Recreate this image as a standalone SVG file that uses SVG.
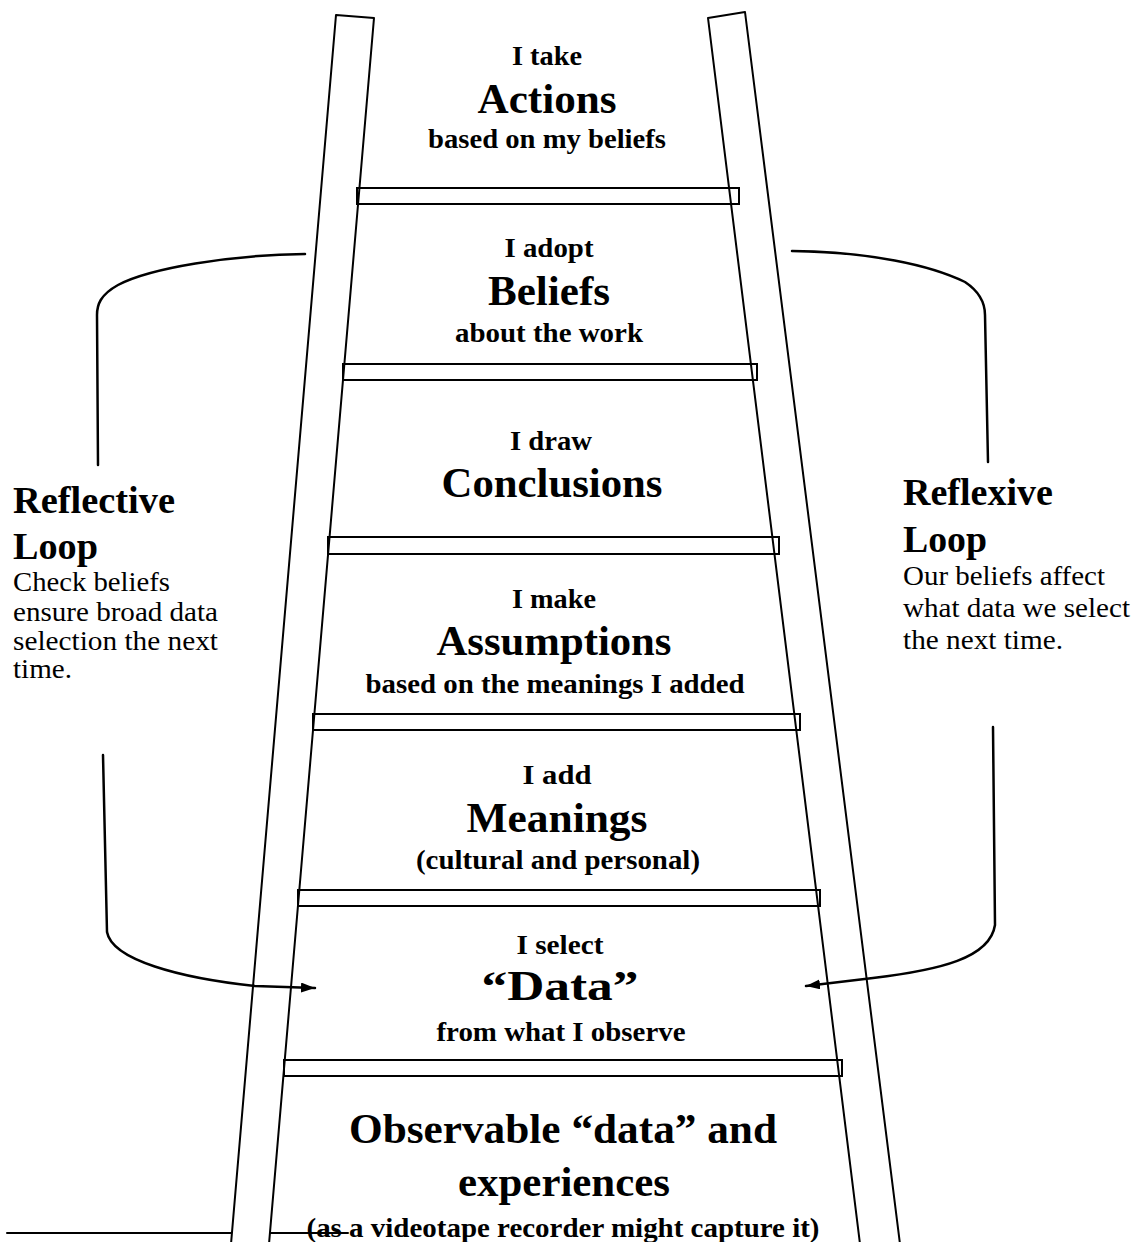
<svg xmlns="http://www.w3.org/2000/svg" width="1136" height="1242" viewBox="0 0 1136 1242">
<style>
  .line{fill:none;stroke:#000;stroke-width:2;stroke-linejoin:round;stroke-linecap:round}
  .rung{fill:#fff;stroke:#000;stroke-width:2}
  .loop{fill:none;stroke:#000;stroke-width:2.5;stroke-linecap:round}
  text{font-family:"Liberation Serif","DejaVu Serif",serif;fill:#000}
  .sm{font-size:28px;font-weight:bold;text-anchor:middle}
  .lg{font-size:43px;font-weight:bold;text-anchor:middle}
  .side{font-size:38px;font-weight:bold}
  .body{font-size:28px}
</style>
<defs>
  <marker id="arrow" viewBox="0 0 14 10" refX="14" refY="5" markerWidth="14" markerHeight="10" markerUnits="userSpaceOnUse" orient="auto">
    <path d="M0,0 L14,5 L0,10 z" fill="#000"/>
  </marker>
</defs>
<rect width="1136" height="1242" fill="#fff"/>

<g id="ladder">
  <rect class="rung" x="357" y="188" width="382" height="16"/>
  <rect class="rung" x="343" y="364" width="414" height="16"/>
  <rect class="rung" x="328" y="537" width="451" height="17"/>
  <rect class="rung" x="313" y="714" width="487" height="16"/>
  <rect class="rung" x="298" y="890" width="522" height="16"/>
  <rect class="rung" x="284" y="1060" width="558" height="16"/>
  <path class="line" d="M231,1244 L336,15 L374,18 L269,1244"/>
  <path class="line" d="M860,1244 L708,18 L745,12 L900,1244"/>
  <path class="line" d="M7,1233 L231,1233 M270,1233 L348,1233"/>
</g>

<g id="connectors">
  <path class="loop" d="M305,254 C230,255 150,268 118,285 C100,295 97,305 97,315 L98,465"/>
  <path class="loop" d="M103,755 L107,932 C112,960 180,978 255,986 L315,988" marker-end="url(#arrow)"/>
  <path class="loop" d="M792,251 C870,252 930,265 965,282 C980,292 985,303 985,315 L988,462"/>
  <path class="loop" d="M993,727 L995,925 C990,958 940,970 873,978 L806,986" marker-end="url(#arrow)"/>
</g>

<g id="node-actions">
  <text class="sm" x="547" y="65" textLength="70" lengthAdjust="spacingAndGlyphs">I take</text>
  <text class="lg" x="547" y="113" textLength="139" lengthAdjust="spacingAndGlyphs">Actions</text>
  <text class="sm" x="547" y="148" textLength="238" lengthAdjust="spacingAndGlyphs">based on my beliefs</text>
</g>
<g id="node-beliefs">
  <text class="sm" x="549" y="257" textLength="89" lengthAdjust="spacingAndGlyphs">I adopt</text>
  <text class="lg" x="549" y="305" textLength="122" lengthAdjust="spacingAndGlyphs">Beliefs</text>
  <text class="sm" x="549" y="342" textLength="188" lengthAdjust="spacingAndGlyphs">about the work</text>
</g>
<g id="node-conclusions">
  <text class="sm" x="551" y="450" textLength="82" lengthAdjust="spacingAndGlyphs">I draw</text>
  <text class="lg" x="552" y="497" textLength="221" lengthAdjust="spacingAndGlyphs">Conclusions</text>
</g>
<g id="node-assumptions">
  <text class="sm" x="554" y="608" textLength="84" lengthAdjust="spacingAndGlyphs">I make</text>
  <text class="lg" x="554" y="655" textLength="235" lengthAdjust="spacingAndGlyphs">Assumptions</text>
  <text class="sm" x="555" y="693" textLength="379" lengthAdjust="spacingAndGlyphs">based on the meanings I added</text>
</g>
<g id="node-meanings">
  <text class="sm" x="557" y="784" textLength="69" lengthAdjust="spacingAndGlyphs">I add</text>
  <text class="lg" x="557" y="832" textLength="181" lengthAdjust="spacingAndGlyphs">Meanings</text>
  <text class="sm" x="558" y="869" textLength="284" lengthAdjust="spacingAndGlyphs">(cultural and personal)</text>
</g>
<g id="node-data">
  <text class="sm" x="560" y="954" textLength="87" lengthAdjust="spacingAndGlyphs">I select</text>
  <text class="lg" x="560" y="1000" textLength="157" lengthAdjust="spacingAndGlyphs">“Data”</text>
  <text class="sm" x="561" y="1041" textLength="249" lengthAdjust="spacingAndGlyphs">from what I observe</text>
</g>
<g id="node-observable">
  <text class="lg" x="563" y="1143" textLength="428" lengthAdjust="spacingAndGlyphs">Observable “data” and</text>
  <text class="lg" x="564" y="1196" textLength="212" lengthAdjust="spacingAndGlyphs">experiences</text>
  <text class="sm" x="563" y="1237" textLength="513" lengthAdjust="spacingAndGlyphs">(as a videotape recorder might capture it)</text>
</g>

<g id="reflective-loop">
  <text class="side" x="13" y="513" textLength="162" lengthAdjust="spacingAndGlyphs">Reflective</text>
  <text class="side" x="13" y="559" textLength="85" lengthAdjust="spacingAndGlyphs">Loop</text>
  <text class="body" x="13" y="591" textLength="157" lengthAdjust="spacingAndGlyphs">Check beliefs</text>
  <text class="body" x="13" y="621" textLength="205" lengthAdjust="spacingAndGlyphs">ensure broad data</text>
  <text class="body" x="13" y="650" textLength="205" lengthAdjust="spacingAndGlyphs">selection the next</text>
  <text class="body" x="13" y="678" textLength="59" lengthAdjust="spacingAndGlyphs">time.</text>
</g>
<g id="reflexive-loop">
  <text class="side" x="903" y="505" textLength="150" lengthAdjust="spacingAndGlyphs">Reflexive</text>
  <text class="side" x="903" y="552" textLength="84" lengthAdjust="spacingAndGlyphs">Loop</text>
  <text class="body" x="903" y="585" textLength="202" lengthAdjust="spacingAndGlyphs">Our beliefs affect</text>
  <text class="body" x="903" y="617" textLength="227" lengthAdjust="spacingAndGlyphs">what data we select</text>
  <text class="body" x="903" y="649" textLength="160" lengthAdjust="spacingAndGlyphs">the next time.</text>
</g>
</svg>
